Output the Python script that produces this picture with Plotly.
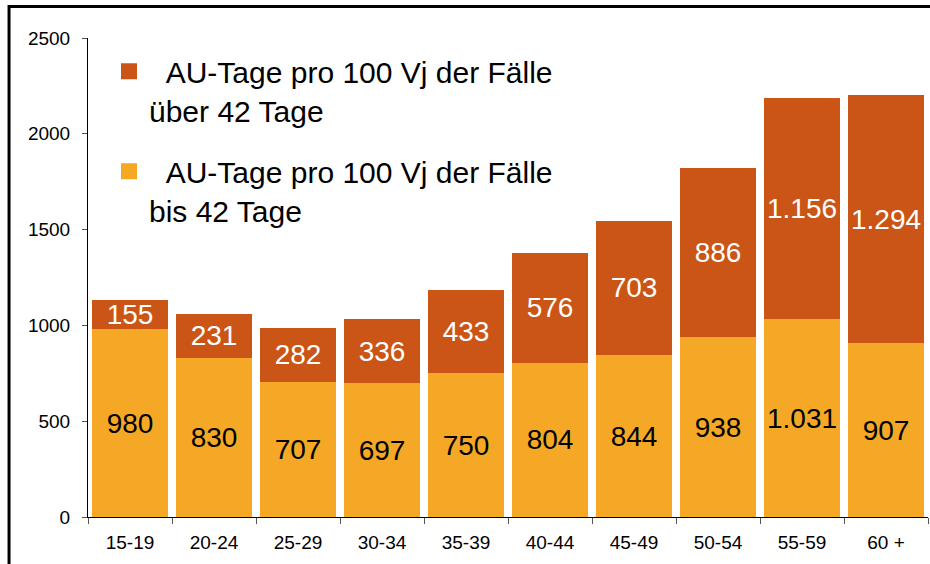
import plotly.graph_objects as go

categories = ["15-19", "20-24", "25-29", "30-34", "35-39", "40-44", "45-49", "50-54", "55-59", "60 +"]
bis_42 = [980, 830, 707, 697, 750, 804, 844, 938, 1031, 907]
ueber_42 = [155, 231, 282, 336, 433, 576, 703, 886, 1156, 1294]
y_ticks = [0, 500, 1000, 1500, 2000, 2500]

name_ueber = "\u00a0\u00a0AU-Tage pro 100 Vj der Fälle<br>über 42 Tage"
name_bis = "\u00a0\u00a0AU-Tage pro 100 Vj der Fälle<br>bis 42 Tage"

LIGHT = "#F5A826"
DARK = "#CA5516"
FONT = "Liberation Sans, Arial, sans-serif"


def de_fmt(v):
    return f"{v:,}".replace(",", ".")


fig = go.Figure()
fig.add_trace(go.Bar(
    x=categories, y=bis_42, marker=dict(color=LIGHT, line=dict(width=0)),
    text=[de_fmt(v) for v in bis_42], textposition="inside", insidetextanchor="middle",
    textangle=0, constraintext="none",
    insidetextfont=dict(family=FONT, size=28, color="black"), showlegend=False,
    hoverinfo="skip",
))
fig.add_trace(go.Bar(
    x=categories, y=ueber_42, marker=dict(color=DARK, line=dict(width=0)),
    text=[de_fmt(v) for v in ueber_42], textposition="inside", insidetextanchor="middle",
    textangle=0, constraintext="none",
    insidetextfont=dict(family=FONT, size=28, color="white"), showlegend=False,
    hoverinfo="skip",
))
# legend entries
fig.add_trace(go.Scatter(x=[None], y=[None], mode="markers", name=name_ueber,
                         legendgroup="a",
                         marker=dict(symbol="square", size=16, color=DARK)))
fig.add_trace(go.Scatter(x=[None], y=[None], mode="markers", name=name_bis,
                         legendgroup="b",
                         marker=dict(symbol="square", size=16, color=LIGHT)))

fig.update_layout(
    width=930, height=564,
    margin=dict(l=88, r=2, t=38, b=47),
    barmode="stack", bargap=0.095,
    plot_bgcolor="white", paper_bgcolor="white",
    font=dict(family=FONT, color="black"),
    uniformtext=dict(minsize=28, mode="show"),
    legend=dict(
        x=0.025, y=0.985, xanchor="left", yanchor="top",
        font=dict(family=FONT, size=30, color="black"),
        traceorder="grouped", tracegroupgap=19, valign="top",
        bgcolor="rgba(0,0,0,0)",
    ),
    shapes=[dict(type="rect", xref="paper", yref="paper",
                 x0=-0.094, x1=1.2, y0=-0.4, y1=1.066,
                 line=dict(color="black", width=3))],
)
fig.update_yaxes(
    range=[0, 2500], tickvals=y_ticks, showgrid=False, zeroline=False,
    showline=True, linecolor="black", linewidth=1,
    ticks="outside", ticklen=5, tickcolor="#555555",
    tickfont=dict(family=FONT, size=19, color="black"),
    ticklabelstandoff=8,
)
fig.update_xaxes(
    type="category", showgrid=False, showline=True, linecolor="black", linewidth=1,
    ticks="outside", ticklen=6, tickcolor="#555555", tickson="boundaries",
    tickfont=dict(family=FONT, size=19, color="black"),
    ticklabelstandoff=8,
)

fig.write_html("out.html", config={"displayModeBar": False},
               post_script="document.body.style.margin='0px';")
